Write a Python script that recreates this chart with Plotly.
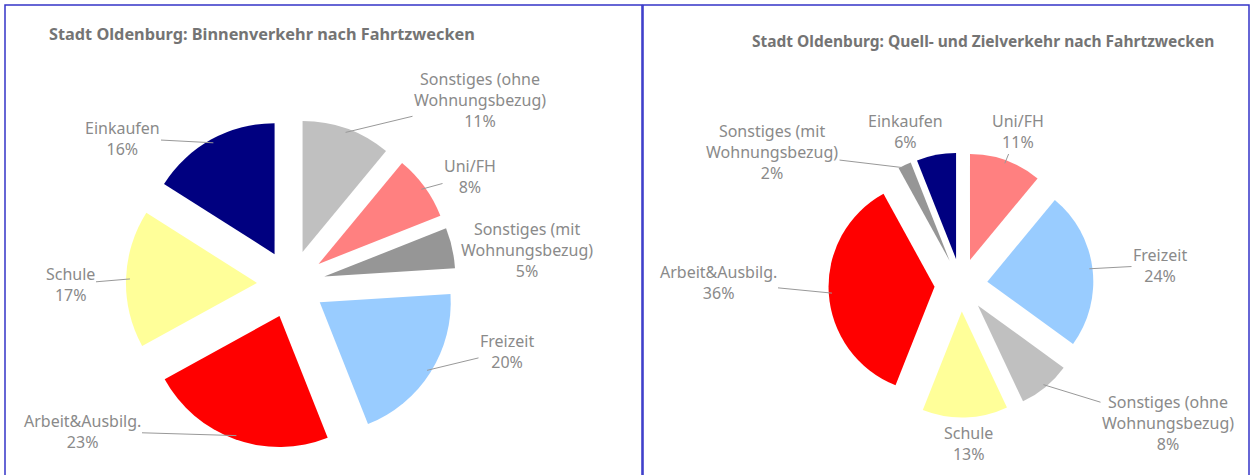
import math
import plotly.graph_objects as go

# ---------------- data ----------------
categories_left = ["Sonstiges (ohne Wohnungsbezug)", "Uni/FH", "Sonstiges (mit Wohnungsbezug)",
                   "Freizeit", "Arbeit&Ausbilg.", "Schule", "Einkaufen"]
values_left = [11, 8, 5, 20, 23, 17, 16]

categories_right = ["Uni/FH", "Freizeit", "Sonstiges (ohne Wohnungsbezug)", "Schule",
                    "Arbeit&Ausbilg.", "Sonstiges (mit Wohnungsbezug)", "Einkaufen"]
values_right = [11, 24, 8, 13, 36, 2, 6]

title_left = "Stadt Oldenburg: Binnenverkehr nach Fahrtzwecken"
title_right = "Stadt Oldenburg: Quell- und Zielverkehr nach Fahrtzwecken"

# ---------------- styles ----------------
W, H = 1254, 475
colors = {
    "Sonstiges (ohne Wohnungsbezug)": "#C0C0C0",
    "Uni/FH": "#FF8080",
    "Sonstiges (mit Wohnungsbezug)": "#969696",
    "Freizeit": "#99CCFF",
    "Arbeit&Ausbilg.": "#FF0000",
    "Schule": "#FFFF99",
    "Einkaufen": "#000080",
}
display = {
    "Sonstiges (ohne Wohnungsbezug)": "Sonstiges (ohne<br>Wohnungsbezug)",
    "Sonstiges (mit Wohnungsbezug)": "Sonstiges (mit<br>Wohnungsbezug)",
}
FONT = "Noto Sans"
LABEL_COLOR = "#8a8a8a"
TITLE_COLOR = "#747474"

# pie geometry (pixels): center, radius, pull
left_pie = dict(cx=291, cy=284, r=131, pull=0.26)
right_pie = dict(cx=961, cy=285, r=106, pull=0.25)

# label text centers (pixels) and whether a leader line is drawn
left_labels = {
    "Sonstiges (ohne Wohnungsbezug)": (480, 100, True),
    "Uni/FH": (470, 176, True),
    "Sonstiges (mit Wohnungsbezug)": (527, 250, False),
    "Freizeit": (507, 351, True),
    "Arbeit&Ausbilg.": (82, 431, True),
    "Schule": (70, 284, True),
    "Einkaufen": (122, 138, True),
}
right_labels = {
    "Uni/FH": (1018, 131, True),
    "Freizeit": (1160, 265, True),
    "Sonstiges (ohne Wohnungsbezug)": (1168, 423, True),
    "Schule": (968, 443, False),
    "Arbeit&Ausbilg.": (718, 282, True),
    "Sonstiges (mit Wohnungsbezug)": (772, 152, True),
    "Einkaufen": (905, 131, False),
}


def domain_for(g):
    half = g["r"] * (1 + g["pull"])
    x0, x1 = (g["cx"] - half) / W, (g["cx"] + half) / W
    y0, y1 = 1 - (g["cy"] + half) / H, 1 - (g["cy"] - half) / H
    return dict(x=[x0, x1], y=[y0, y1])


def make_pie(cats, vals, g):
    return go.Pie(
        labels=cats, values=vals, sort=False, direction="clockwise", rotation=0,
        pull=[g["pull"]] * len(vals), textinfo="none", hoverinfo="label+percent",
        marker=dict(colors=[colors[c] for c in cats], line=dict(width=0)),
        domain=domain_for(g), showlegend=False,
    )


def make_annotations(cats, vals, g, label_pos):
    anns = []
    total = float(sum(vals))
    cum = 0.0
    for c, v in zip(cats, vals):
        a0 = cum / total * 2 * math.pi
        cum += v
        a1 = cum / total * 2 * math.pi
        m = (a0 + a1) / 2
        dist = g["r"] * (g["pull"] + 0.97)
        px = g["cx"] + dist * math.sin(m)
        py = g["cy"] - dist * math.cos(m)
        tx, ty, leader = label_pos[c]
        text = display.get(c, c) + "<br>" + f"{v}%"
        if leader:
            anns.append(dict(
                x=px / W, y=1 - py / H, xref="paper", yref="paper",
                text=text, showarrow=True, arrowhead=0, arrowwidth=1,
                arrowcolor="#999999", standoff=0,
                ax=tx - px, ay=ty - py, align="center",
                font=dict(family=FONT, size=16, color=LABEL_COLOR),
            ))
        else:
            anns.append(dict(
                x=tx / W, y=1 - ty / H, xref="paper", yref="paper",
                text=text, showarrow=False, xanchor="center", yanchor="middle",
                align="center", font=dict(family=FONT, size=16, color=LABEL_COLOR),
            ))
    return anns


fig = go.Figure()
fig.add_trace(make_pie(categories_left, values_left, left_pie))
fig.add_trace(make_pie(categories_right, values_right, right_pie))

annotations = []
annotations += make_annotations(categories_left, values_left, left_pie, left_labels)
annotations += make_annotations(categories_right, values_right, right_pie, right_labels)
annotations.append(dict(
    x=47 / W, y=1 - 34 / H, xref="paper", yref="paper", xanchor="left", yanchor="middle",
    text="<b>" + title_left + "</b>", showarrow=False,
    font=dict(family=FONT, size=16.3, color=TITLE_COLOR),
))
annotations.append(dict(
    x=750 / W, y=1 - 41 / H, xref="paper", yref="paper", xanchor="left", yanchor="middle",
    text="<b>" + title_right + "</b>", showarrow=False,
    font=dict(family=FONT, size=15.5, color=TITLE_COLOR),
))

shapes = [
    dict(type="rect", xref="paper", yref="paper", x0=5 / W, x1=642 / W,
         y0=-0.05, y1=1 - 5 / H, line=dict(color="#3535c8", width=1.5)),
    dict(type="rect", xref="paper", yref="paper", x0=643 / W, x1=1249 / W,
         y0=-0.05, y1=1 - 5 / H, line=dict(color="#3535c8", width=1.5)),
]

fig.update_layout(
    width=W, height=H, margin=dict(l=0, r=0, t=0, b=0),
    paper_bgcolor="white", plot_bgcolor="white",
    annotations=annotations, shapes=shapes, showlegend=False,
)
fig.write_html(
    "out.html",
    config={"displayModeBar": False},
    post_script="document.body.style.margin='0';document.body.style.overflow='hidden';",
)
